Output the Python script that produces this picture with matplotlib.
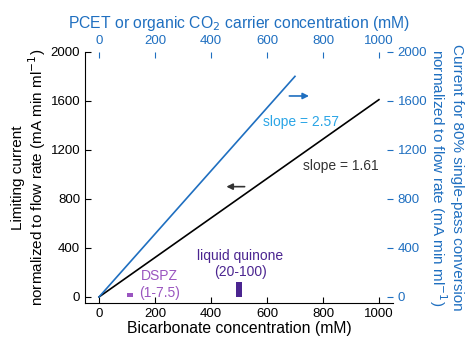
import matplotlib.pyplot as plt

plt.rcParams['font.family'] = ['Liberation Sans', 'DejaVu Sans']

# --- Data ---------------------------------------------------------------------
BICARB_X = [0, 1000]
BICARB_Y = [0, 1610]
CARRIER_X = [0, 700]
CARRIER_Y = [0, 1800]
DSPZ_X = [110]
DSPZ_Y = [35]
QUINONE_X = [500]
QUINONE_Y = [120]
TICKS_X = [0, 200, 400, 600, 800, 1000]
TICKS_Y = [0, 400, 800, 1200, 1600, 2000]

BLUE = '#1f6fc0'
LIGHT_BLUE = '#2aa5e6'
DSPZ_COLOR = '#9a55c0'
QUINONE_COLOR = '#4b2590'

# --- Plot ---------------------------------------------------------------------
fig = plt.figure(figsize=(4.7, 3.39), dpi=100)
pos = [0.181, 0.106, 0.655, 0.741]
ax = fig.add_axes(pos)
ax2 = fig.add_axes(pos, frameon=False)

ax.plot(BICARB_X, BICARB_Y, color='black', linewidth=1.2)
ax.bar(DSPZ_X, DSPZ_Y, width=22, color=DSPZ_COLOR)
ax.bar(QUINONE_X, QUINONE_Y, width=20, color=QUINONE_COLOR)

ax.set_xlim(-50, 1050)
ax.set_ylim(-50, 2000)
ax.set_xticks(TICKS_X)
ax.set_yticks(TICKS_Y)
ax.tick_params(direction='in', length=4, labelsize=9.5, color='black')
ax.spines['top'].set_visible(False)
ax.spines['right'].set_visible(False)
ax.set_xlabel('Bicarbonate concentration (mM)', fontsize=11.3, labelpad=1)
ax.set_ylabel('Limiting current\nnormalized to flow rate (mA min ml$^{-1}$)',
              fontsize=11, labelpad=2, linespacing=1.05)

# Carrier line on top / right axes
ax2.plot(CARRIER_X, CARRIER_Y, color=BLUE, linewidth=1.2)
ax2.set_xlim(-50, 1050)
ax2.set_ylim(-50, 2000)
ax2.set_xticks(TICKS_X)
ax2.set_yticks(TICKS_Y)
ax2.xaxis.tick_top()
ax2.yaxis.tick_right()
ax2.xaxis.set_label_position('top')
ax2.yaxis.set_label_position('right')
ax2.tick_params(direction='in', length=4, labelsize=9.5, color=BLUE,
                labelcolor=BLUE)
for side in ['top', 'right']:
    ax2.spines[side].set_visible(True)
    ax2.spines[side].set_color(BLUE)
ax2.spines['left'].set_visible(False)
ax2.spines['bottom'].set_visible(False)
ax2.set_xlabel('PCET or organic CO$_2$ carrier concentration (mM)',
               fontsize=11.3, color=BLUE, labelpad=5)
ax2.set_ylabel('Current for 80% single-pass conversion\n'
               'normalized to flow rate (mA min ml$^{-1}$)',
               fontsize=11, color=BLUE, rotation=270, labelpad=26,
               linespacing=1.05)

# Annotations
ax.text(720, 1430, 'slope = 2.57', color=LIGHT_BLUE, fontsize=10,
        ha='center', va='center')
ax.text(865, 1070, 'slope = 1.61', color='#333333', fontsize=10,
        ha='center', va='center')
ax.annotate('', xy=(760, 1640), xytext=(670, 1640),
            arrowprops=dict(arrowstyle='-|>', color=BLUE, lw=1.2,
                            mutation_scale=9))
ax.annotate('', xy=(445, 900), xytext=(530, 900),
            arrowprops=dict(arrowstyle='-|>', color='#333333', lw=1.2,
                            mutation_scale=9))
ax.text(215, 100, 'DSPZ\n(1-7.5)', color=DSPZ_COLOR, fontsize=10,
        ha='center', va='center', linespacing=1.25)
ax.text(505, 270, 'liquid quinone\n(20-100)', color=QUINONE_COLOR,
        fontsize=10, ha='center', va='center', linespacing=1.2)

plt.savefig('out.png', dpi=100)
